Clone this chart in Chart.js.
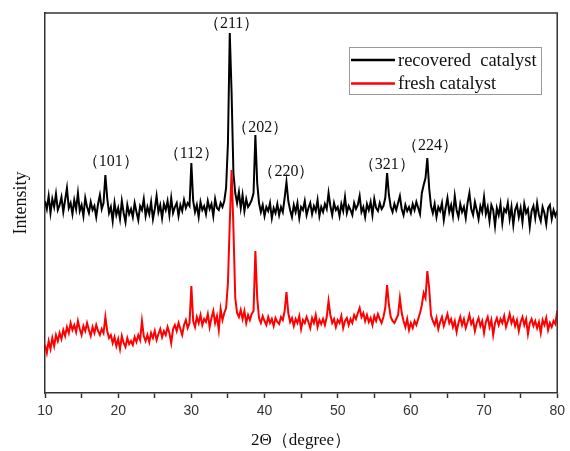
<!DOCTYPE html>
<html>
<head>
<meta charset="utf-8">
<script src="https://cdn.jsdelivr.net/npm/chart.js@4"></script>
<style>
    html, body { margin: 0; padding: 0; background: #fff; }
    #xrdChart { display: block; }
</style>
</head>
<body>
<canvas id="xrdChart" width="570" height="451"></canvas>
<script>
// ========== DATA ==========
// scan starts at 10 deg, one reading every 0.25 deg up to 80 deg
const START_ANGLE = 10;
const STEP = 0.25;

// intensity, arbitrary units (recovered pattern is offset upwards)
const recovered = [
    192, 184, 197, 180, 194, 186, 199, 183,
    188, 196, 181, 193, 205, 185, 190, 179,
    193, 184, 200, 182, 188, 177, 195, 186,
    180, 191, 183, 187, 176, 189, 198, 184,
    190, 218, 195, 180, 186, 172, 190, 178,
    185, 174, 192, 180, 171, 188, 179, 184,
    176, 190, 181, 173, 187, 183, 194, 177,
    186, 179, 191, 174, 184, 197, 181, 188,
    175, 189, 183, 192, 178, 195, 180, 186,
    190, 177, 188, 182, 193, 185, 190, 187,
    230, 192, 181, 188, 176, 191, 183, 187,
    179, 192, 184, 189, 177, 194, 185, 183,
    190, 186, 192, 205, 250, 360, 300, 220,
    200, 190, 201, 185, 198, 182, 194, 186,
    189, 193, 200, 258, 210, 190, 181, 188,
    177, 186, 182, 190, 175, 185, 180, 189,
    178, 186, 181, 195, 211, 192, 183, 176,
    188, 181, 190, 175, 186, 183, 192, 178,
    185, 190, 179, 187, 182, 193, 177, 186,
    181, 189, 184, 200, 187, 178, 190, 183,
    186, 177, 189, 182, 196, 180, 187, 183,
    178, 190, 184, 188, 197, 181, 186, 176,
    189, 183, 191, 178, 194, 185, 182, 190,
    184, 187, 195, 220, 198, 186, 181, 189,
    183, 190, 197, 184, 178, 188, 182, 186,
    180, 189, 183, 191, 185, 179, 200, 208,
    215, 235, 205, 187, 180, 189, 176, 186,
    182, 190, 173, 185, 195, 181, 188, 177,
    197, 183, 176, 189, 181, 186, 175, 190,
    200, 184, 178, 191, 183, 174, 187, 181,
    196, 179, 186, 172, 188, 183, 167, 185,
    178, 189, 170, 184, 181, 190, 174, 186,
    168, 183, 188, 176, 185, 171, 189, 180,
    184, 166, 182, 187, 175, 190, 178, 172,
    186, 180, 169, 185, 188, 174, 183, 177,
    182
];

const fresh = [
    48, 40, 52, 44, 55, 47, 58, 52,
    60, 54, 63, 57, 66, 60, 70, 63,
    68, 61, 72, 64, 58, 67, 62, 70,
    63, 57, 66, 60, 68, 62, 58, 64,
    60, 76, 62, 55, 58, 50, 56, 47,
    54, 44, 57, 50, 46, 55, 49, 52,
    48, 56, 51, 58, 53, 72, 57, 52,
    58, 51, 60, 55, 62, 53, 59, 64,
    56, 62, 58, 66, 60, 50, 64, 68,
    62, 70, 64, 58, 68, 73, 65, 70,
    107, 72, 66, 76, 70, 78, 68, 74,
    71, 79, 66, 75, 82, 70, 77, 63,
    84, 73, 80, 85, 110, 170, 223, 165,
    95, 80, 76, 83, 74, 82, 70, 78,
    73, 79, 82, 142, 95, 75, 70, 77,
    72, 68, 76, 70, 74, 67, 75, 71,
    69, 76, 73, 82, 101, 80, 71, 75,
    67, 74, 70, 77, 64, 73, 70, 76,
    71, 65, 75, 70, 78, 66, 73, 69,
    74, 68, 76, 92, 78, 70, 74, 66,
    73, 70, 77, 65, 72, 75, 68, 74,
    70, 78, 74, 80, 85, 76, 80, 72,
    78, 71, 75, 68, 77, 72, 79, 74,
    70, 76, 85, 108, 88, 76, 72, 70,
    74, 78, 95, 80, 72, 66, 74, 63,
    70, 65, 72, 68, 74, 80, 88, 100,
    95, 122, 105, 78, 72, 68, 75, 64,
    71, 76, 67, 73, 79, 70, 74, 66,
    72, 61, 70, 76, 68, 74, 65, 71,
    78, 69, 73, 62, 70, 75, 67, 72,
    60, 71, 76, 66, 73, 58, 70, 75,
    68, 74, 70, 77, 66, 72, 79, 70,
    75, 67, 73, 62, 71, 76, 68, 74,
    59, 70, 74, 67, 72, 65, 71, 60,
    73, 68, 75, 63, 70, 66, 72, 69,
    82
];

// hkl reflections marked above the recovered pattern
const peakLabels = ['（101）', '（112）', '（211）', '（202）', '（220）', '（321）', '（224）'];
const peakLabelX = [19.0, 30.0, 35.5, 39.4, 43.0, 56.7, 62.6];
const peakLabelY = [231, 239, 369, 265, 221, 228, 247];

const xTicks = [10, 20, 30, 40, 50, 60, 70, 80];

const twoTheta = recovered.map((_, i) => START_ANGLE + i * STEP);
const toPoints = values => values.map((v, i) => ({ x: twoTheta[i], y: v }));

const SERIF = '"Liberation Serif", "Times New Roman", serif';
const SANS = '"Liberation Sans", Arial, sans-serif';
const AXIS_COLOR = '#333';

// ========== PLUGINS ==========
// full frame around the plot
const framePlugin = {
    id: 'frame',
    afterDraw(chart) {
        const { ctx, chartArea: a } = chart;
        ctx.save();
        ctx.strokeStyle = AXIS_COLOR;
        ctx.lineWidth = 1.5;
        ctx.beginPath();
        ctx.moveTo(a.left, a.top);
        ctx.lineTo(a.right, a.top);
        ctx.lineTo(a.right, a.bottom);
        ctx.stroke();
        ctx.restore();
    }
};

// (hkl) labels, placed through the chart scales
const peakLabelPlugin = {
    id: 'peakLabels',
    afterDatasetsDraw(chart) {
        const { ctx, scales } = chart;
        ctx.save();
        ctx.font = '16px ' + SERIF;
        ctx.fillStyle = '#111';
        ctx.textAlign = 'center';
        ctx.textBaseline = 'middle';
        peakLabels.forEach((txt, i) => {
            ctx.fillText(txt, scales.x.getPixelForValue(peakLabelX[i]), scales.y.getPixelForValue(peakLabelY[i]));
        });
        ctx.restore();
    }
};

// boxed legend in the upper right of the plot
const boxLegendPlugin = {
    id: 'boxLegend',
    afterDraw(chart) {
        const { ctx, chartArea: a } = chart;
        const left = a.left + 304, top = a.top + 34, w = 192, h = 47;
        ctx.save();
        ctx.fillStyle = '#fff';
        ctx.fillRect(left, top, w, h);
        ctx.strokeStyle = '#999';
        ctx.lineWidth = 1;
        ctx.strokeRect(left + 0.5, top + 0.5, w, h);
        ctx.font = '18.5px ' + SERIF;
        ctx.textBaseline = 'middle';
        chart.data.datasets.forEach((ds, i) => {
            const y = top + 13 + i * 23.5;
            ctx.strokeStyle = ds.borderColor;
            ctx.lineWidth = 2.5;
            ctx.beginPath();
            ctx.moveTo(left + 2, y);
            ctx.lineTo(left + 46, y);
            ctx.stroke();
            ctx.fillStyle = '#111';
            ctx.fillText(ds.label, left + 49, y + 1);
        });
        ctx.restore();
    }
};

// ========== CHART ==========
new Chart(document.getElementById('xrdChart'), {
    type: 'line',
    data: {
        datasets: [
            {
                label: 'recovered  catalyst',
                data: toPoints(recovered),
                borderColor: '#000',
                borderWidth: 2,
                pointRadius: 0,
                tension: 0,
                order: 1
            },
            {
                label: 'fresh catalyst',
                data: toPoints(fresh),
                borderColor: '#f00',
                borderWidth: 2,
                pointRadius: 0,
                tension: 0,
                order: 0
            }
        ]
    },
    options: {
        responsive: false,
        animation: false,
        devicePixelRatio: 1,
        layout: { padding: { top: 13, right: 10, bottom: 0, left: 0 } },
        plugins: {
            legend: { display: false },
            tooltip: { enabled: false }
        },
        scales: {
            x: {
                type: 'linear',
                min: 10,
                max: 80,
                afterFit: scale => { scale.height = 58; },
                afterBuildTicks: scale => {
                    // majors from xTicks, minors halfway between
                    const ticks = [];
                    xTicks.forEach((v, i) => {
                        ticks.push({ value: v });
                        if (i < xTicks.length - 1) ticks.push({ value: v + 5 });
                    });
                    scale.ticks = ticks;
                },
                ticks: {
                    autoSkip: false,
                    maxRotation: 0,
                    padding: 5,
                    color: AXIS_COLOR,
                    font: { family: SANS, size: 14 },
                    callback: v => (xTicks.includes(v) ? v : '')
                },
                grid: {
                    drawOnChartArea: false,
                    tickLength: 5,
                    tickWidth: 1.5,
                    tickColor: AXIS_COLOR
                },
                border: { color: AXIS_COLOR, width: 1.5 },
                title: {
                    display: true,
                    text: '2Θ（degree）',
                    color: '#111',
                    font: { family: SERIF, size: 17 },
                    padding: { top: 0, bottom: 0 }
                }
            },
            y: {
                min: 0,
                max: 380,
                afterFit: scale => { scale.width = 45; },
                ticks: { display: false },
                grid: { display: false },
                border: { color: AXIS_COLOR, width: 1.5 },
                title: {
                    display: true,
                    text: 'Intensity',
                    color: '#111',
                    font: { family: SERIF, size: 18 },
                    padding: { top: 10, bottom: 0 }
                }
            }
        }
    },
    plugins: [framePlugin, peakLabelPlugin, boxLegendPlugin]
});
</script>
</body>
</html>
